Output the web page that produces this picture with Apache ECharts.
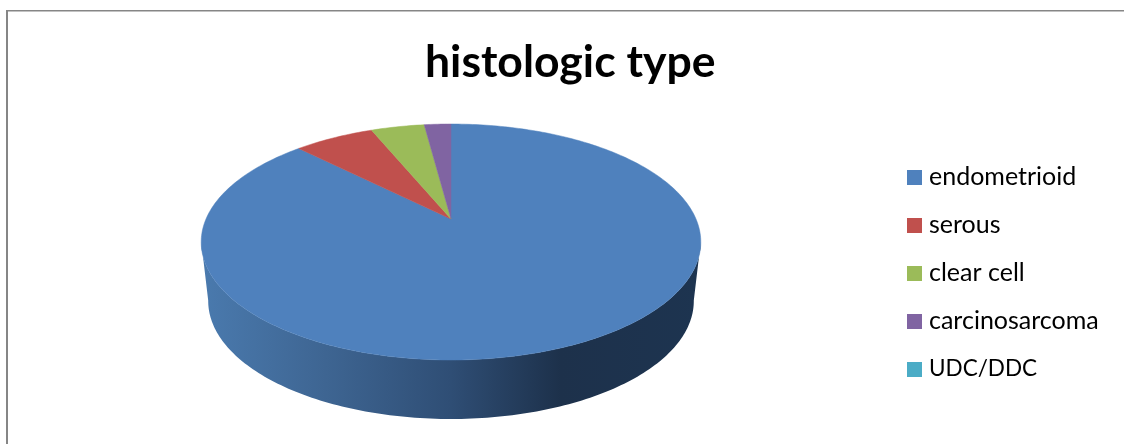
<!DOCTYPE html>
<html>
<head>
<meta charset="utf-8">
<style>html,body{margin:0;padding:0;background:#fff}#chart{width:1124px;height:444px}</style>
<script src="https://cdn.jsdelivr.net/npm/echarts@6/dist/echarts.min.js"></script>
</head>
<body>
<div id="chart"></div>
<script>
const categories = ['endometrioid', 'serous', 'clear cell', 'carcinosarcoma', 'UDC/DDC'];
const counts = [42, 3, 2, 1, 0];
const colors = ['#4f81bd', '#c0504d', '#9bbb59', '#8064a2', '#4bacc6'];
const chartTitle = 'histologic type';

// Perspective disc: a circle tilted away from the viewer, with the far rim foreshortened.
const disc = { cx: 451, apexY: 219, halfWidth: 245, tilt: 113.5, persp: 0.195 };
const wall = { drop: 59, shrink: 0.972 };
const frontFrom = 101, frontTo = 259; // rim angles where the side wall is visible
const wallGradient = {
  type: 'linear', x: 201, y: 0, x2: 700, y2: 0, global: true,
  colorStops: [
    { offset: 0, color: '#4a7aae' },
    { offset: 0.25, color: '#3e6592' },
    { offset: 0.5, color: '#2f4e75' },
    { offset: 0.72, color: '#1d314b' },
    { offset: 1, color: '#1d3450' }
  ]
};

const total = counts.reduce((a, b) => a + b, 0);

function project(deg, lower) {
  const t = deg * Math.PI / 180;
  const u = Math.sin(t), v = Math.cos(t);
  const w = 1 + disc.persp * v;
  const k = lower ? wall.shrink : 1;
  return [
    disc.cx + disc.halfWidth * k * u / w,
    disc.apexY + (lower ? wall.drop : 0) - disc.tilt * v / w
  ];
}

function arc(from, to, lower) {
  const pts = [];
  const n = Math.max(2, Math.ceil(Math.abs(to - from)));
  for (let i = 0; i <= n; i++) pts.push(project(from + (to - from) * i / n, lower));
  return pts;
}

function sliceRenderer(index) {
  const before = counts.slice(0, index).reduce((a, b) => a + b, 0);
  return function (params, api) {
    const value = api.value(0);
    const children = [];
    if (value > 0) {
      const start = before / total * 360;
      const end = (before + value) / total * 360;
      const a = Math.max(start, frontFrom), b = Math.min(end, frontTo);
      if (a < b) {
        children.push({
          type: 'polygon',
          shape: { points: arc(a, b, false).concat(arc(b, a, true)) },
          style: { fill: wallGradient }
        });
      }
      children.push({
        type: 'polygon',
        shape: { points: [[disc.cx, disc.apexY]].concat(arc(start, end, false)) },
        style: { fill: colors[index], stroke: colors[index], lineWidth: 0.5 }
      });
    }
    return { type: 'group', children };
  };
}

const chart = echarts.init(document.getElementById('chart'), null, { renderer: 'canvas' });
chart.setOption({
  animation: false,
  backgroundColor: '#ffffff',
  title: {
    text: chartTitle,
    left: 420, top: 35,
    textStyle: { fontFamily: 'Lato', fontWeight: 'bold', fontSize: 44.5, color: '#000000' }
  },
  legend: {
    orient: 'vertical',
    left: 907, top: 164,
    padding: 0,
    icon: 'rect',
    itemWidth: 15, itemHeight: 15, itemGap: 23,
    // Capitals run wide in this face, so the all-caps entry is set slightly smaller.
    formatter: name => name === name.toUpperCase() ? '{caps|' + name + '}' : name,
    textStyle: {
      fontFamily: 'Lato', fontSize: 25, color: '#000000', padding: [0, 0, 2, 2],
      rich: { caps: { fontFamily: 'Lato', fontSize: 22.5, color: '#000000', height: 25, lineHeight: 25 } }
    },
    data: categories
  },
  graphic: [
    { type: 'line', shape: { x1: 7, y1: 10.8, x2: 1124, y2: 10.8 }, style: { stroke: '#868686', lineWidth: 1.6 } },
    { type: 'line', shape: { x1: 7, y1: 10, x2: 7, y2: 444 }, style: { stroke: '#868686', lineWidth: 2 } }
  ],
  series: categories.map((name, i) => ({
    type: 'custom',
    name,
    coordinateSystem: 'none',
    itemStyle: { color: colors[i] },
    renderItem: sliceRenderer(i),
    data: [[counts[i]]]
  }))
});
</script>
</body>
</html>
